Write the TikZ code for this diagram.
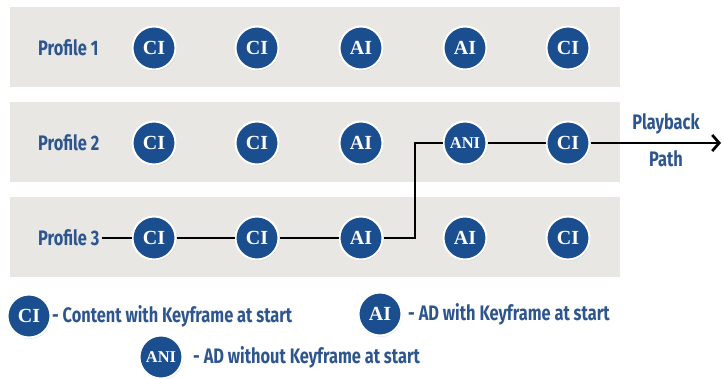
\documentclass[tikz,border=0pt]{standalone}
\usepackage{fontspec}
\usepackage{tikz}
\usetikzlibrary{arrows.meta}
\usetikzlibrary{shadows}
\newfontfamily\labelfont{Fira Sans}[FakeStretch=0.78]
\newfontfamily\framefont{Liberation Serif}
\definecolor{bandgray}{RGB}{232,231,228}
\definecolor{frameblue}{RGB}{27,78,143}
\definecolor{textblue}{RGB}{46,86,142}

\begin{document}
\begin{tikzpicture}[x=1pt,y=-1pt,
  frame/.style={circle,fill=frameblue,draw=white,line width=2pt,minimum size=43pt,inner sep=0pt,
    text=white,font=\framefont\bfseries\fontsize{20}{20}\selectfont,
    drop shadow={shadow xshift=0.8pt,shadow yshift=-1.2pt,opacity=0.3}},
  wide/.style={font=\framefont\bfseries\fontsize{16.5}{16.5}\selectfont},
  caption/.style={text=textblue,inner sep=2pt,font=\labelfont\bfseries\fontsize{21}{21}\selectfont},
  path/.style={line width=2.7pt,black}]
  \useasboundingbox (0,0) rectangle (724,379);
  % rows
  \fill[bandgray] (10,7) rectangle (620,87);
  \fill[bandgray] (10,102) rectangle (620,182);
  \fill[bandgray] (10,197) rectangle (620,277);
  \node[caption,anchor=west] (10) at (36,48) {Profile 1};
  \node[caption,anchor=west] (20) at (36,143) {Profile 2};
  \node[caption,anchor=west] (30) at (36,238) {Profile 3};
  \node[frame] (11) at (154,48) {CI};
  \node[frame] (12) at (257,48) {CI};
  \node[frame] (13) at (361,48) {AI};
  \node[frame] (14) at (465,48) {AI};
  \node[frame] (15) at (568,48) {CI};
  \node[frame] (21) at (154,143) {CI};
  \node[frame] (22) at (257,143) {CI};
  \node[frame] (23) at (361,143) {AI};
  \node[frame,wide] (24) at (465,143) {ANI};
  \node[frame] (25) at (568,143) {CI};
  \node[frame] (31) at (154,238) {CI};
  \node[frame] (32) at (257,238) {CI};
  \node[frame] (33) at (361,238) {AI};
  \node[frame] (34) at (465,238) {AI};
  \node[frame] (35) at (568,238) {CI};
  % playback path
  \coordinate (bend) at (415,238);
  \coordinate (out) at (721,143);
  \draw[path] (30) -- (31);
  \draw[path] (31) -- (32);
  \draw[path] (32) -- (33);
  \draw[path] (33) -- (bend) |- (24);
  \draw[path] (24) -- (25);
  \draw[path,-{Straight Barb[length=7pt,width=16pt,line width=2.7pt]}] (25) -- (out);
  \node[caption] (pb) at (666,124) {Playback};
  \node[caption] (pp) at (666,159) {Path};
  % legend
  \node[frame] (41) at (29,316) {CI};
  \node[caption,anchor=west] (42) at (50,316) {- Content with Keyframe at start};
  \node[frame] (43) at (380,314) {AI};
  \node[caption,anchor=west] (44) at (406,314) {- AD with Keyframe at start};
  \node[frame,wide] (45) at (161,357) {ANI};
  \node[caption,anchor=west] (46) at (191,357) {- AD without Keyframe at start};
\end{tikzpicture}
\end{document}
